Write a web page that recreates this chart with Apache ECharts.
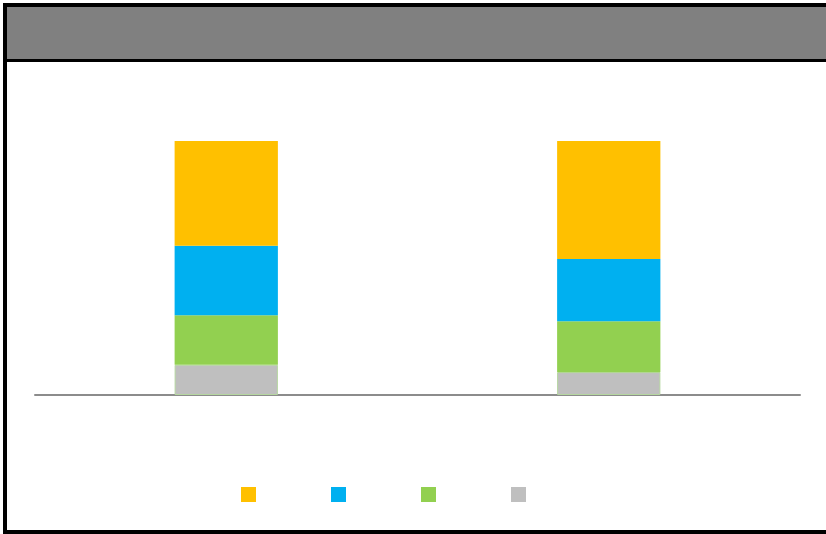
<!DOCTYPE html>
<html>
<head>
<meta charset="utf-8">
<script src="https://cdn.jsdelivr.net/npm/echarts@6/dist/echarts.min.js"></script>
<style>html,body{margin:0;padding:0;background:#fff}#c{width:826px;height:534px}</style>
</head>
<body>
<div id="c"></div>
<script>
const categories = ['A', 'B'];
const seriesNames = ['Series 1', 'Series 2', 'Series 3', 'Series 4'];
const grey = [11.9, 9.0];
const green = [19.5, 20.0];
const blue = [27.4, 24.5];
const orange = [41.2, 46.5];
const colors = ['#FFC000', '#00B0F0', '#92D050', '#BFBFBF'];

const chart = echarts.init(document.getElementById('c'));
const mk = (name, data, color, extra) => Object.assign({
  name, type: 'bar', stack: 'total', data, barWidth: '27%',
  itemStyle: { color }, emphasis: { disabled: true }
}, extra || {});

chart.setOption({
  animation: false,
  grid: { left: 35, right: 26, top: 141, bottom: 139 },
  xAxis: {
    type: 'category', data: categories,
    axisLine: { lineStyle: { color: '#8c8c8c', width: 2 } },
    axisTick: { show: false }, axisLabel: { show: false }
  },
  yAxis: {
    type: 'value', min: 0, max: 100,
    axisLine: { show: false }, axisTick: { show: false },
    axisLabel: { show: false }, splitLine: { show: false }
  },
  legend: {
    data: seriesNames.slice(),
    left: 236, top: 482,
    itemWidth: 15, itemHeight: 15, itemGap: 75,
    icon: 'rect',
    itemStyle: { borderWidth: 0 },
    formatter: () => '',
    selectedMode: false
  },
  graphic: [
    { type: 'rect', z: 0, shape: { x: 5, y: 5, width: 840, height: 55 }, style: { fill: '#808080' } },
    { type: 'line', z: 1, shape: { x1: 5, y1: 60.5, x2: 840, y2: 60.5 }, style: { stroke: '#000', lineWidth: 3 } },
    { type: 'rect', z: 2, shape: { x: 5, y: 5, width: 840, height: 527 }, style: { fill: 'none', stroke: '#000', lineWidth: 4 } }
  ],
  series: [
    mk(seriesNames[3], grey, colors[3], { itemStyle: { color: colors[3], borderColor: '#b5d6a0', borderWidth: 1 } }),
    mk(seriesNames[2], green, colors[2]),
    mk(seriesNames[1], blue, colors[1]),
    mk(seriesNames[0], orange, colors[0])
  ]
});
</script>
</body>
</html>
